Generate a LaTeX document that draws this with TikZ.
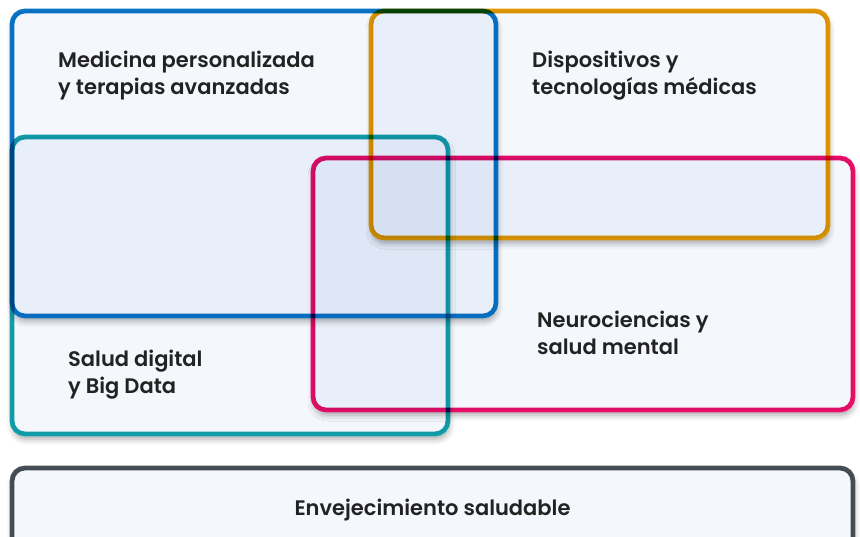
\documentclass[tikz,border=0pt]{standalone}
\usepackage{fontspec}
\setmainfont{Poppins}[BoldFont={Poppins SemiBold}]
\usetikzlibrary{positioning, shadows.blur}
\definecolor{cblue}{RGB}{10,116,196}
\definecolor{corange}{RGB}{226,150,0}
\definecolor{cteal}{RGB}{18,158,168}
\definecolor{cpink}{RGB}{234,14,104}
\definecolor{cgray}{RGB}{71,78,85}
\definecolor{boxfill}{RGB}{200,215,240}
\definecolor{ctext}{RGB}{34,34,34}
\newcommand{\boxshadow}[2]{%
    \begin{scope}[even odd rule]
        \clip (-20,-20) rectangle (880,580)
            [rounded corners=15pt] ([shift={(-2.4,-2.4)}]#1) rectangle ([shift={(2.4,2.4)}]#2);
        \path[shade box] (#1) rectangle (#2);
    \end{scope}}

\begin{document}
\begin{tikzpicture}[x=1pt, y=-1pt,
        box/.style={line width=4.8pt, rounded corners=13pt, inner sep=0pt, outer sep=0pt,
            anchor=north west, fill=boxfill, fill opacity=0.2, blend mode=multiply},
        shade box/.style={rounded corners=13pt,
            blur shadow={shadow xshift=1pt, shadow yshift=-5pt, shadow blur radius=6pt, shadow opacity=35}},
        lbl/.style={text=ctext, font=\fontsize{21}{27}\selectfont\bfseries, align=left, inner sep=0pt}]
        \useasboundingbox (0,0) rectangle (860,537);
        \boxshadow{12,11}{496,316}
        \node[box, draw=cblue, minimum width=484pt, minimum height=305pt] (med) at (12,11) {};
        \boxshadow{371,11}{828,238}
        \node[box, draw=corange, minimum width=457pt, minimum height=227pt] (disp) at (371,11) {};
        \boxshadow{12,137}{448,434}
        \node[box, draw=cteal, minimum width=436pt, minimum height=297pt] (dig) at (12,137) {};
        \boxshadow{313,158}{853,410}
        \node[box, draw=cpink, minimum width=540pt, minimum height=252pt] (neuro) at (313,158) {};
        \boxshadow{12,468}{853,552}
        \node[box, draw=cgray, minimum width=841pt, minimum height=84pt] (env) at (12,468) {};

        \node[lbl, below right=40pt and 46pt of med.north west] (medt) {Medicina personalizada\\y terapias avanzadas};
        \node[lbl, below right=40pt and 161pt of disp.north west] (dispt) {Dispositivos y\\tecnologías médicas};
        \node[lbl, below right=153pt and 224pt of neuro.north west] (neurot) {Neurociencias y\\salud mental};
        \node[lbl, below right=213pt and 56pt of dig.north west] (digt) {Salud digital\\y Big Data};
        \node[lbl] (envt) at (env.center) {Envejecimiento saludable};
\end{tikzpicture}
\end{document}
